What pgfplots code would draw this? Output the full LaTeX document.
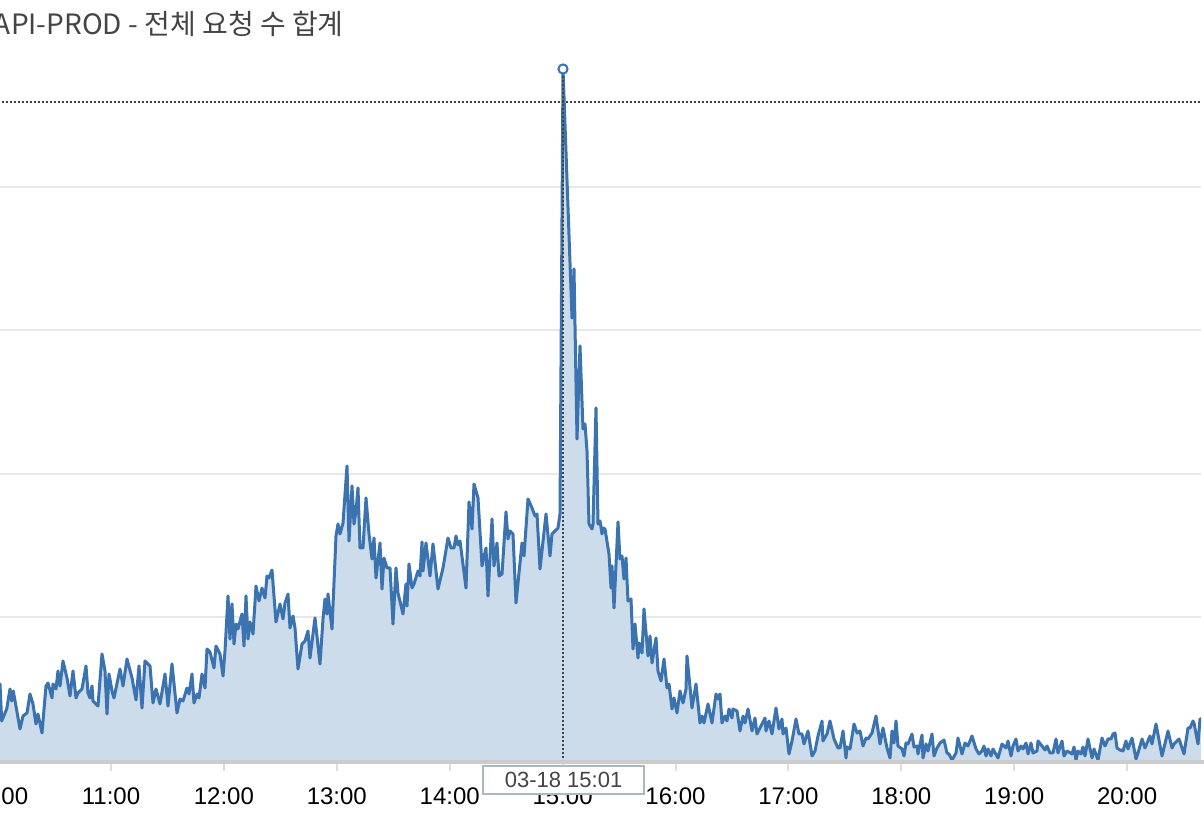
\documentclass[border=0pt]{standalone}
\usepackage{pgfplots}
\pgfplotsset{compat=1.18}
\usepackage{pgfplotstable}
\usepackage{fontspec}
\setmainfont{Liberation Sans}
\newfontfamily\krfont{Noto Sans CJK KR}
\definecolor{linec}{HTML}{3A73B0}
\definecolor{fillc}{HTML}{CCDCEA}
\definecolor{gridc}{HTML}{E8E8E8}
\definecolor{basec}{HTML}{CCCCCC}
\definecolor{tickc}{HTML}{DDDDDD}
\definecolor{dotc}{HTML}{444444}
\definecolor{boxc}{HTML}{AAB9BD}
\definecolor{titlec}{HTML}{444444}

% x: horizontal position (10:00 at -1.9, one hour = 112.9), y: request count (grid step 143.5)
\pgfplotstableread[row sep=\\]{
x y\\
-3 70\\ 0 77\\ 1.7 40\\ 6.7 52\\ 10 72\\ 11.7 60\\ 13.3 70\\ 20 32\\ 23 45\\ 27 48\\
30 67\\ 33 57\\ 36 37\\ 38 47\\ 42 28\\ 46 75\\ 48 78\\ 52 63\\ 53 77\\ 56 72\\
58 90\\ 60 75\\ 63 100\\ 67 83\\ 70 65\\ 73 90\\ 76 63\\ 78 68\\ 82 72\\ 86 95\\
88 68\\ 90 63\\ 92 75\\ 93 60\\ 98 55\\ 102 107\\ 105 90\\ 107 47\\ 109 87\\ 112 70\\
114 63\\ 120 92\\ 123 75\\ 127 102\\ 132 83\\ 136 61\\ 139 95\\ 142 53\\ 145 100\\ 150 95\\
153 58\\ 156 72\\ 160 57\\ 165 87\\ 168 55\\ 172 97\\ 177 48\\ 180 62\\ 183 60\\ 187 73\\
189 67\\ 192 87\\ 194 58\\ 197 67\\ 199 63\\ 202 87\\ 205 73\\ 207 112\\ 210 109\\ 214 93\\
216 115\\ 220 107\\ 223 85\\ 225 110\\ 228 165\\ 230 122\\ 232 157\\ 234 117\\ 236 137\\ 238 132\\
242 147\\ 244 115\\ 246 165\\ 248 122\\ 250 139\\ 253 127\\ 256 175\\ 259 160\\ 262 173\\ 265 163\\
267 185\\ 269 183\\ 272 191\\ 276 139\\ 280 157\\ 283 142\\ 285 158\\ 288 167\\ 290 133\\ 293 145\\
295 133\\ 298 92\\ 302 117\\ 305 120\\ 308 130\\ 310 103\\ 315 143\\ 320 97\\ 323 142\\ 325 162\\
327 147\\ 328 167\\ 332 132\\ 336 225\\ 338 237\\ 340 227\\ 343 238\\ 347 295\\ 349 220\\ 352 275\\
354 237\\ 356 250\\ 358 273\\ 360 213\\ 363 213\\ 366 263\\ 369 227\\ 372 202\\ 374 223\\ 376 183\\
380 218\\ 382 172\\ 384 203\\ 387 193\\ 390 193\\ 393 137\\ 396 193\\ 398 168\\ 403 147\\ 406 177\\
407 155\\ 409 197\\ 412 173\\ 414 177\\ 418 190\\ 420 185\\ 422 219\\ 423 190\\ 426 218\\ 430 185\\
433 217\\ 438 172\\ 443 193\\ 448 223\\ 451 213\\ 454 213\\ 456 225\\ 458 216\\ 460 220\\ 466 173\\
469 259\\ 472 232\\ 474 277\\ 478 263\\ 482 195\\ 486 213\\ 488 165\\ 492 242\\ 494 195\\ 497 218\\
499 185\\ 502 187\\ 506 249\\ 508 222\\ 510 230\\ 513 227\\ 516 158\\ 522 218\\ 524 205\\ 528 262\\
532 253\\ 535 245\\ 537 247\\ 540 192\\ 546 247\\ 550 205\\ 552 227\\ 557 232\\ 558 233\\ 560 247\\
563 692\\ 572 443\\ 574 492\\ 577 322\\ 580 415\\ 583 332\\ 585 337\\ 587 310\\ 589 237\\ 592 232\\
593 237\\ 596 353\\ 598 237\\ 600 240\\ 602 227\\ 603 233\\ 605 232\\ 609 207\\ 611 173\\ 612 195\\
614 153\\ 618 239\\ 620 202\\ 622 205\\ 624 182\\ 626 203\\ 628 160\\ 631 162\\ 633 112\\ 635 137\\
638 103\\ 639 118\\ 642 108\\ 644 152\\ 648 105\\ 650 125\\ 652 98\\ 656 123\\ 658 90\\ 661 80\\
664 102\\ 667 73\\ 669 77\\ 672 52\\ 674 63\\ 677 48\\ 680 70\\ 683 58\\ 686 72\\ 687 105\\
692 53\\ 696 77\\ 700 38\\ 702 45\\ 704 38\\ 708 57\\ 712 38\\ 716 67\\ 718 62\\ 720 67\\
722 38\\ 725 45\\ 727 40\\ 729 52\\ 732 43\\ 733 52\\ 737 50\\ 740 30\\ 743 45\\ 745 38\\
748 52\\ 752 30\\ 755 43\\ 757 27\\ 765 43\\ 766 30\\ 769 40\\ 772 27\\ 776 53\\ 779 32\\
782 42\\ 783 27\\ 786 33\\ 789 7\\ 792 20\\ 796 42\\ 799 27\\ 802 27\\ 804 17\\ 808 30\\
812 5\\ 815 10\\ 818 25\\ 822 40\\ 823 20\\ 827 27\\ 830 40\\ 834 22\\ 838 13\\ 840 13\\
843 30\\ 846 3\\ 847 14\\ 850 12\\ 854 37\\ 857 28\\ 860 30\\ 863 15\\ 866 23\\ 868 22\\
872 28\\ 876 45\\ 880 17\\ 883 33\\ 887 13\\ 890 3\\ 892 30\\ 894 18\\ 896 40\\ 898 15\\
902 12\\ 904 5\\ 906 18\\ 908 17\\ 912 27\\ 914 14\\ 917 15\\ 918 7\\ 922 26\\ 923 3\\
926 17\\ 928 10\\ 932 27\\ 934 5\\ 937 13\\ 940 18\\ 944 21\\ 947 8\\ 949 7\\ 952 1\\
956 8\\ 958 23\\ 962 7\\ 965 18\\ 968 15\\ 972 25\\ 976 12\\ 979 7\\ 982 10\\ 984 15\\
986 5\\ 988 12\\ 991 5\\ 993 12\\ 998 3\\ 1002 17\\ 1006 13\\ 1008 20\\ 1011 5\\ 1013 15\\
1016 22\\ 1018 10\\ 1021 15\\ 1023 12\\ 1026 18\\ 1028 7\\ 1031 18\\ 1033 8\\ 1037 10\\ 1038 20\\
1042 15\\ 1045 11\\ 1047 15\\ 1050 8\\ 1053 8\\ 1056 22\\ 1058 8\\ 1062 20\\ 1064 5\\ 1067 10\\
1072 7\\ 1074 14\\ 1076 1\\ 1078 10\\ 1081 7\\ 1083 14\\ 1085 5\\ 1088 22\\ 1092 3\\ 1094 12\\
1098 1\\ 1102 23\\ 1105 15\\ 1108 22\\ 1111 22\\ 1113 27\\ 1115 28\\ 1117 13\\ 1120 11\\ 1123 10\\
1126 20\\ 1128 12\\ 1132 23\\ 1136 2\\ 1138 8\\ 1142 22\\ 1145 13\\ 1150 25\\ 1152 17\\ 1156 37\\
1162 5\\ 1168 30\\ 1172 13\\ 1174 17\\ 1179 22\\ 1184 7\\ 1188 33\\ 1190 33\\ 1193 40\\ 1194 38\\
1198 17\\ 1200 42\\ 1204 42\\
}\reqs

\begin{document}
\begin{tikzpicture}
\path[use as bounding box] (0,0) rectangle (602pt,409pt);
\begin{axis}[
  at={(-1.25pt,28.5pt)}, anchor=south west,
  scale only axis, width=601.75pt, height=355pt,
  xmin=-2.5, xmax=1201, ymin=0, ymax=710,
  axis line style={draw=none},
  xtick={-1.9,111,223.9,336.8,449.7,562.6,675.5,788.4,901.3,1014.2,1127.1},
  xticklabels={10:00,11:00,12:00,13:00,14:00,15:00,16:00,17:00,18:00,19:00,20:00},
  ytick={143.5,287,430.5,574}, yticklabels={},
  ymajorgrids, grid style={color=gridc, line width=1pt},
  xtick pos=left, ytick pos=left,
  tick align=outside, major tick length=5pt,
  x tick style={color=tickc, line width=1pt},
  y tick style={draw=none},
  xticklabel style={font=\fontsize{12pt}{14pt}\selectfont, inner sep=0pt, anchor=north, text=black},
  xticklabel shift=8.3pt,
  clip=true,
]
\addplot[draw=none, fill=fillc] table {\reqs} \closedcycle;
\addplot[linec, line width=1.5pt, line join=round] table {\reqs};
\addplot[dotc, line width=0.65pt, dash pattern=on 0.9pt off 1.1pt] coordinates {(-10,659) (1210,659)};
\addplot[dotc, line width=0.65pt, dash pattern=on 0.9pt off 1.1pt] coordinates {(563,685) (563,0)};
\addplot[only marks, mark=*, mark size=2.3pt, mark options={draw=linec, fill=white, line width=1pt}] coordinates {(563,692)};
\end{axis}
\draw[basec, line width=1.8pt] (0,27.9pt) -- (602pt,27.9pt);
\node[draw=boxc, fill=white, line width=0.8pt, minimum width=80.5pt, minimum height=14pt, inner sep=0pt, text=titlec, font=\fontsize{11pt}{13pt}\selectfont] at (281.8pt,19pt) {03-18 15:01};
\node[anchor=base west, inner sep=0pt, text=titlec, font=\krfont\fontsize{14pt}{16pt}\selectfont] at (-3.2pt,391.5pt) {API-PROD - 전체 요청 수 합계};
\end{tikzpicture}
\end{document}
